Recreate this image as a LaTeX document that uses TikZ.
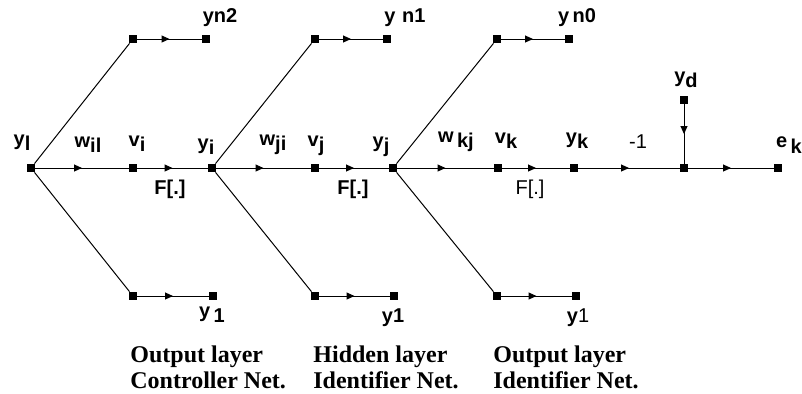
\documentclass[tikz,border=0pt]{standalone}
\usepackage{fontspec}
\setmainfont{Liberation Serif}
\setsansfont{Liberation Sans}
\usetikzlibrary{arrows.meta, decorations.markings}
\newcommand{\lsub}[2]{#1\raisebox{-0.5ex}{#2}}
\tikzset{
  blob/.style={rectangle, fill=black, inner sep=0pt, minimum size=4pt},
  link/.style={line width=0.5pt},
  flow/.style={link, postaction=decorate,
    decoration={markings, mark=at position 0.5 with {\arrow{Triangle[length=4pt, width=3.5pt]}}}},
  lbl/.style={font=\sffamily\bfseries\fontsize{10}{10}\selectfont, inner sep=0pt},
  caption/.style={font=\rmfamily\bfseries\fontsize{12}{13}\selectfont,
    align=left, anchor=north west, inner sep=0pt}
}

\begin{document}
\begin{tikzpicture}[x=0.5pt, y=-0.5pt]
  \useasboundingbox (0,0) rectangle (802,393);
  % main signal path
  \node[blob] (yl) at (31,168) {};
  \node[blob] (vi) at (133,168) {};
  \node[blob] (yi) at (212,168) {};
  \node[blob] (vj) at (315,168) {};
  \node[blob] (yj) at (393,168) {};
  \node[blob] (vk) at (498,168) {};
  \node[blob] (yk) at (574,168) {};
  \node[blob] (sum) at (684,168) {};
  \node[blob] (ek) at (778,168) {};
  \node[blob] (yd) at (684,100) {};
  % upper branches
  \node[blob] (t2a) at (133,39) {};
  \node[blob] (t2b) at (206,39) {};
  \node[blob] (t1a) at (315,39) {};
  \node[blob] (t1b) at (387,39) {};
  \node[blob] (t0a) at (497,39) {};
  \node[blob] (t0b) at (569,39) {};
  % lower branches
  \node[blob] (b2a) at (133,296) {};
  \node[blob] (b2b) at (213,296) {};
  \node[blob] (b1a) at (315,296) {};
  \node[blob] (b1b) at (394,296) {};
  \node[blob] (b0a) at (497,296) {};
  \node[blob] (b0b) at (576,296) {};

  \draw[flow] (yl) -- (vi);
  \draw[flow] (vi) -- (yi);
  \draw[flow] (yi) -- (vj);
  \draw[flow] (vj) -- (yj);
  \draw[flow] (yj) -- (vk);
  \draw[flow] (vk) -- (yk);
  \draw[flow] (yk) -- (sum);
  \draw[flow] (sum) -- (ek);
  \draw[flow] (yd) -- (sum);

  \draw[link] (yl) -- (t2a);
  \draw[link] (yl) -- (b2a);
  \draw[link] (yi) -- (t1a);
  \draw[link] (yi) -- (b1a);
  \draw[link] (yj) -- (t0a);
  \draw[link] (yj) -- (b0a);
  \draw[flow] (t2a) -- (t2b);
  \draw[flow] (t1a) -- (t1b);
  \draw[flow] (t0a) -- (t0b);
  \draw[flow] (b2a) -- (b2b);
  \draw[flow] (b1a) -- (b1b);
  \draw[flow] (b0a) -- (b0b);

  % labels
  \node[lbl] (lyl) at (22,143) {\lsub{y}{l}};
  \node[lbl] (lwil) at (88,145) {\lsub{w}{il}};
  \node[lbl] (lvi) at (137,144) {\lsub{v}{i}};
  \node[lbl] (lyi) at (206,147) {\lsub{y}{i}};
  \node[lbl] (lfi) at (170,189) {F[.]};
  \node[lbl] (lwji) at (273,145) {\lsub{w}{ji}};
  \node[lbl] (lvj) at (316,146) {\lsub{v}{j}};
  \node[lbl] (lyj) at (381,147) {\lsub{y}{j}};
  \node[lbl] (lfj) at (353,189) {F[.]};
  \node[lbl] (lwkj) at (456,142) {\lsub{w}{\,kj}};
  \node[lbl] (lvk) at (506,141) {\lsub{v}{k}};
  \node[lbl] (lyk) at (577,141) {\lsub{y}{k}};
  \node[lbl] (lfk) at (530,189) {\mdseries F[.]};
  \node[lbl] (lneg) at (638,142) {\mdseries -1};
  \node[lbl] (lyd) at (686,80) {\lsub{y}{d}};
  \node[lbl] (lek) at (789,145) {\lsub{e}{\,k}};
  \node[lbl] (lyn2) at (220,18) {yn2};
  \node[lbl] (lyn1) at (405,18) {y\,\,n1};
  \node[lbl] (lyn0) at (577,18) {y\,n0};
  \node[lbl] (lb2) at (212,315) {\lsub{y}{\,1}};
  \node[lbl] (lb1) at (393,318) {y1};
  \node[lbl] (lb0) at (578,318) {y\mdseries 1};

  % layer captions
  \node[caption] (cap1) at (130,345) {Output layer\\Controller Net.};
  \node[caption] (cap2) at (313,345) {Hidden layer\\Identifier Net.};
  \node[caption] (cap3) at (493,345) {Output layer\\Identifier Net.};
\end{tikzpicture}
\end{document}
